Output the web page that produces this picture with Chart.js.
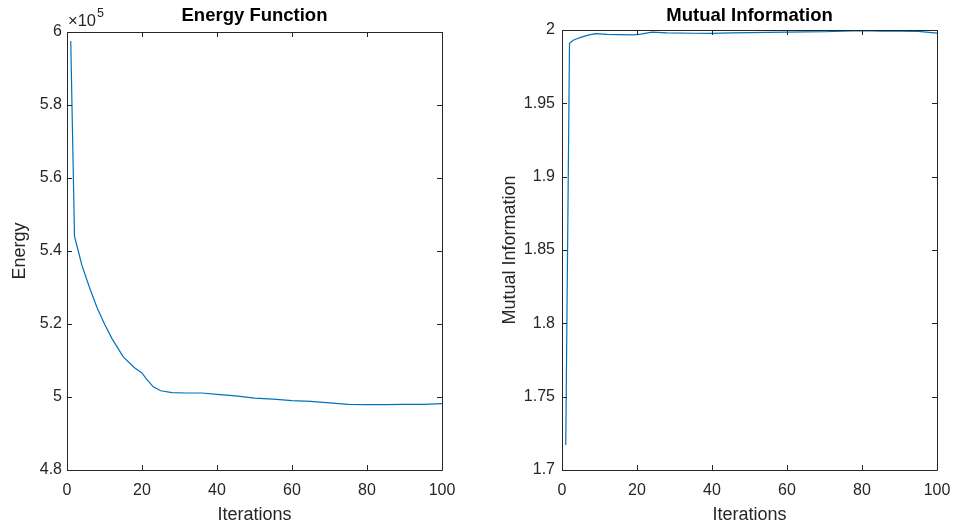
<!DOCTYPE html>
<html>
<head>
<meta charset="utf-8">
<title>Energy Function / Mutual Information</title>
<script src="https://cdn.jsdelivr.net/npm/chart.js@4.4.0/dist/chart.umd.min.js"></script>
<style>
  body { margin: 0; background: #fff; }
  #wrap { position: relative; width: 955px; height: 529px; }
  canvas { position: absolute; top: 0; }
</style>
</head>
<body>
<div id="wrap">
  <canvas id="chartEnergy" width="480" height="529" style="left:0"></canvas>
  <canvas id="chartMI" width="475" height="529" style="left:480px"></canvas>
</div>
<script>
// values
const energyIters = [1, 2, 3, 4, 6, 8, 10, 12, 15, 18, 20, 21, 23, 25, 28, 32, 36, 40, 45, 50, 55, 60, 65, 70, 75, 80, 85, 90, 95, 100];
const energyVals = [597500, 544000, 540000, 536000, 530000, 524500, 520000, 516000, 511000, 508000, 506600, 505200, 502800, 501700, 501200, 501100, 501100, 500700, 500300, 499700, 499400, 499000, 498800, 498400, 498000, 497900, 497900, 498000, 498000, 498200];

const miIters = [1, 2, 3, 4, 5, 7, 9, 12, 15, 19, 21, 24, 28, 35, 40, 45, 50, 55, 60, 65, 70, 75, 80, 85, 90, 95, 100];
const miVals = [1.717, 1.991, 1.993, 1.994, 1.995, 1.9965, 1.9975, 1.997, 1.9968, 1.9967, 1.9972, 1.9985, 1.998, 1.9978, 1.9977, 1.998, 1.9982, 1.9984, 1.9985, 1.9987, 1.9988, 1.9992, 1.9995, 1.9993, 1.9992, 1.999, 1.9978];

const xTicks = [0, 20, 40, 60, 80, 100];
const energyTicks = [480000, 500000, 520000, 540000, 560000, 580000, 600000];
const miTicks = [1.7, 1.75, 1.8, 1.85, 1.9, 1.95, 2];

const FONT = "'Liberation Sans', Arial, Helvetica, sans-serif";
const AXIS_COLOR = '#262626';
const LINE_COLOR = '#0072BD';

// MATLAB-like box with inward ticks, title and exponent label
const matlabFrame = {
  id: 'matlabFrame',
  afterDraw(chart, args, opts) {
    const {ctx, chartArea: a, scales} = chart;
    ctx.save();
    ctx.strokeStyle = AXIS_COLOR;
    ctx.lineWidth = 1;
    ctx.beginPath();
    ctx.rect(Math.round(a.left) + 0.5, Math.round(a.top) + 0.5, Math.round(a.right - a.left), Math.round(a.bottom - a.top));
    ctx.stroke();
    const len = 5;
    ctx.beginPath();
    scales.x.ticks.forEach(t => {
      const px = Math.round(scales.x.getPixelForValue(t.value)) + 0.5;
      ctx.moveTo(px, a.bottom); ctx.lineTo(px, a.bottom - len);
      ctx.moveTo(px, a.top); ctx.lineTo(px, a.top + len);
    });
    scales.y.ticks.forEach(t => {
      const py = Math.round(scales.y.getPixelForValue(t.value)) + 0.5;
      ctx.moveTo(a.left, py); ctx.lineTo(a.left + len, py);
      ctx.moveTo(a.right, py); ctx.lineTo(a.right - len, py);
    });
    ctx.stroke();

    ctx.fillStyle = '#000';
    ctx.font = 'bold 18.5px ' + FONT;
    ctx.textAlign = 'center';
    ctx.textBaseline = 'alphabetic';
    ctx.fillText(opts.text, (a.left + a.right) / 2, 21);

    if (opts.exponent) {
      ctx.fillStyle = AXIS_COLOR;
      ctx.textAlign = 'left';
      ctx.font = '16.5px ' + FONT;
      ctx.fillText('\u00d710', a.left + 1, 26);
      const w = ctx.measureText('\u00d710').width;
      ctx.font = '12.5px ' + FONT;
      ctx.fillText(opts.exponent, a.left + 1 + w + 1, 17);
    }
    ctx.restore();
  }
};

function makeChart(id, xs, ys, cfg) {
  const points = xs.map((x, i) => ({x, y: ys[i]}));
  return new Chart(document.getElementById(id), {
    type: 'line',
    data: { datasets: [{ data: points, borderColor: LINE_COLOR, borderWidth: 1.2, pointRadius: 0, tension: 0, fill: false }] },
    options: {
      responsive: false,
      animation: false,
      layout: { padding: { top: cfg.top, right: cfg.right, left: 0, bottom: 0 } },
      plugins: { legend: { display: false }, tooltip: { enabled: false }, matlabFrame: { text: cfg.title, exponent: cfg.exponent } },
      scales: {
        x: {
          type: 'linear', min: 0, max: 100,
          afterBuildTicks: s => { s.ticks = xTicks.map(v => ({value: v})); },
          afterFit: s => { s.height = 59; s.paddingLeft = 0; s.paddingRight = 0; },
          grid: { display: false, drawTicks: false },
          border: { display: false },
          ticks: { color: AXIS_COLOR, font: { family: FONT, size: 16 }, padding: 11, maxRotation: 0 },
          title: { display: true, text: 'Iterations', color: AXIS_COLOR, font: { family: FONT, size: 18 }, padding: { bottom: 3 } }
        },
        y: {
          type: 'linear', min: cfg.yTicks[0], max: cfg.yTicks[cfg.yTicks.length - 1],
          afterBuildTicks: s => { s.ticks = cfg.yTicks.map(v => ({value: v})); },
          afterFit: s => { s.width = cfg.yWidth; s.paddingTop = 0; s.paddingBottom = 0; },
          grid: { display: false, drawTicks: false },
          border: { display: false },
          ticks: { color: AXIS_COLOR, font: { family: FONT, size: 16 }, padding: cfg.tickPad, callback: cfg.fmt },
          title: { display: true, text: cfg.yLabel, color: AXIS_COLOR, font: { family: FONT, size: 18 }, padding: { top: cfg.titlePad } }
        }
      }
    },
    plugins: [matlabFrame]
  });
}

makeChart('chartEnergy', energyIters, energyVals, {
  title: 'Energy Function', exponent: '5', yLabel: 'Energy', yTicks: energyTicks,
  top: 32, right: 38, yWidth: 67, tickPad: 5, titlePad: 9,
  fmt: v => String(Math.round(v / 1e4) / 10)
});

makeChart('chartMI', miIters, miVals, {
  title: 'Mutual Information', yLabel: 'Mutual Information', yTicks: miTicks,
  top: 30, right: 18, yWidth: 82, tickPad: 7, titlePad: 19,
  fmt: v => String(parseFloat(v.toFixed(2)))
});
</script>
</body>
</html>
